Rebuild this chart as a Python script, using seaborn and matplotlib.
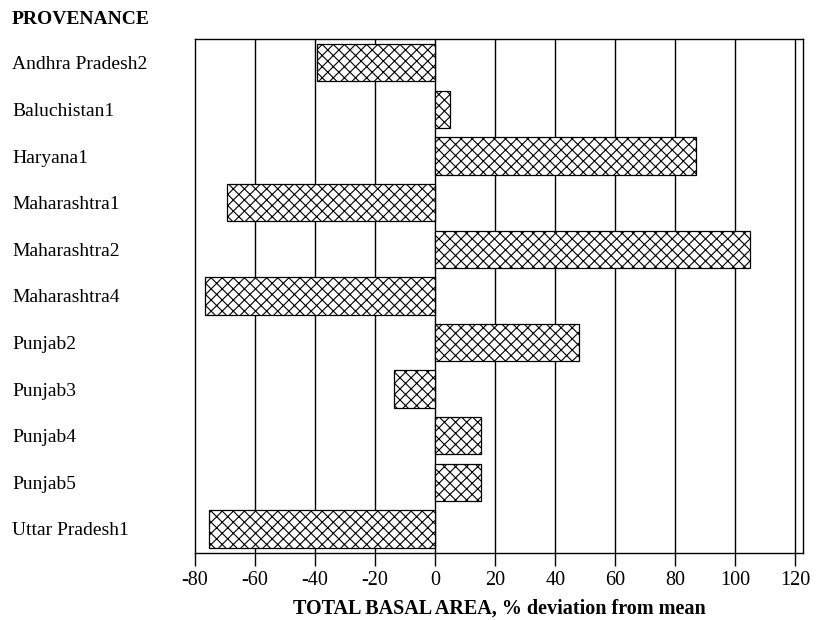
import numpy as np
import pandas as pd
import seaborn as sns
import matplotlib.pyplot as plt

sns.set_theme(style="white")
plt.rcParams['font.family'] = ['Liberation Serif', 'DejaVu Serif']
plt.rcParams['hatch.linewidth'] = 0.8
plt.rcParams['text.color'] = 'black'
plt.rcParams['axes.labelcolor'] = 'black'
plt.rcParams['xtick.color'] = 'black'
plt.rcParams['ytick.color'] = 'black'

provenance = ["Andhra Pradesh2", "Baluchistan1", "Haryana1", "Maharashtra1",
              "Maharashtra2", "Maharashtra4", "Punjab2", "Punjab3",
              "Punjab4", "Punjab5", "Uttar Pradesh1"]
deviation = [-39.5, 5.1, 87.0, -69.5, 105.0, -76.8, 47.8, -13.8, 15.3, 15.3, -75.2]
xticks = [-80, -60, -40, -20, 0, 20, 40, 60, 80, 100, 120]

df = pd.DataFrame({"provenance": provenance, "deviation": deviation})

fig = plt.figure(figsize=(8.24, 6.2), dpi=100)
ax = fig.add_axes([0.2367, 0.1085, 0.7384, 0.8286])

sns.barplot(data=df, x="deviation", y="provenance", orient="h", color="white",
            width=0.8, edgecolor="black", linewidth=0.9, ax=ax, zorder=3)
for p in ax.patches:
    p.set_hatch("xxx")
    p.set_facecolor("white")

ax.set_xlim(-80, 122.7)
ax.set_ylim(10.51, -0.51)
ax.set_xticks(xticks)
ax.set_xticklabels([str(t) for t in xticks], fontsize=14.5)
for t in xticks[1:]:
    ax.axvline(t, color="black", linewidth=1.0, zorder=1)

ax.tick_params(axis="x", direction="out", length=9, width=1, color="black",
               labelcolor="black", bottom=True, pad=4)
ax.tick_params(axis="y", length=0, pad=131.8, labelsize=14, labelcolor="black")
for lab in ax.get_yticklabels():
    lab.set_horizontalalignment("left")

for s in ax.spines.values():
    s.set_color("black")
    s.set_linewidth(1.0)

ax.set_ylabel("")
ax.set_xlabel("TOTAL BASAL AREA, % deviation from mean", fontsize=14.5,
              fontweight="bold", labelpad=6, color="black")
fig.text(12 / 824, 1 - 19 / 620, "PROVENANCE", fontsize=14, fontweight="bold",
         ha="left", va="center", color="black")

fig.savefig("out.png", dpi=100, facecolor="white")
